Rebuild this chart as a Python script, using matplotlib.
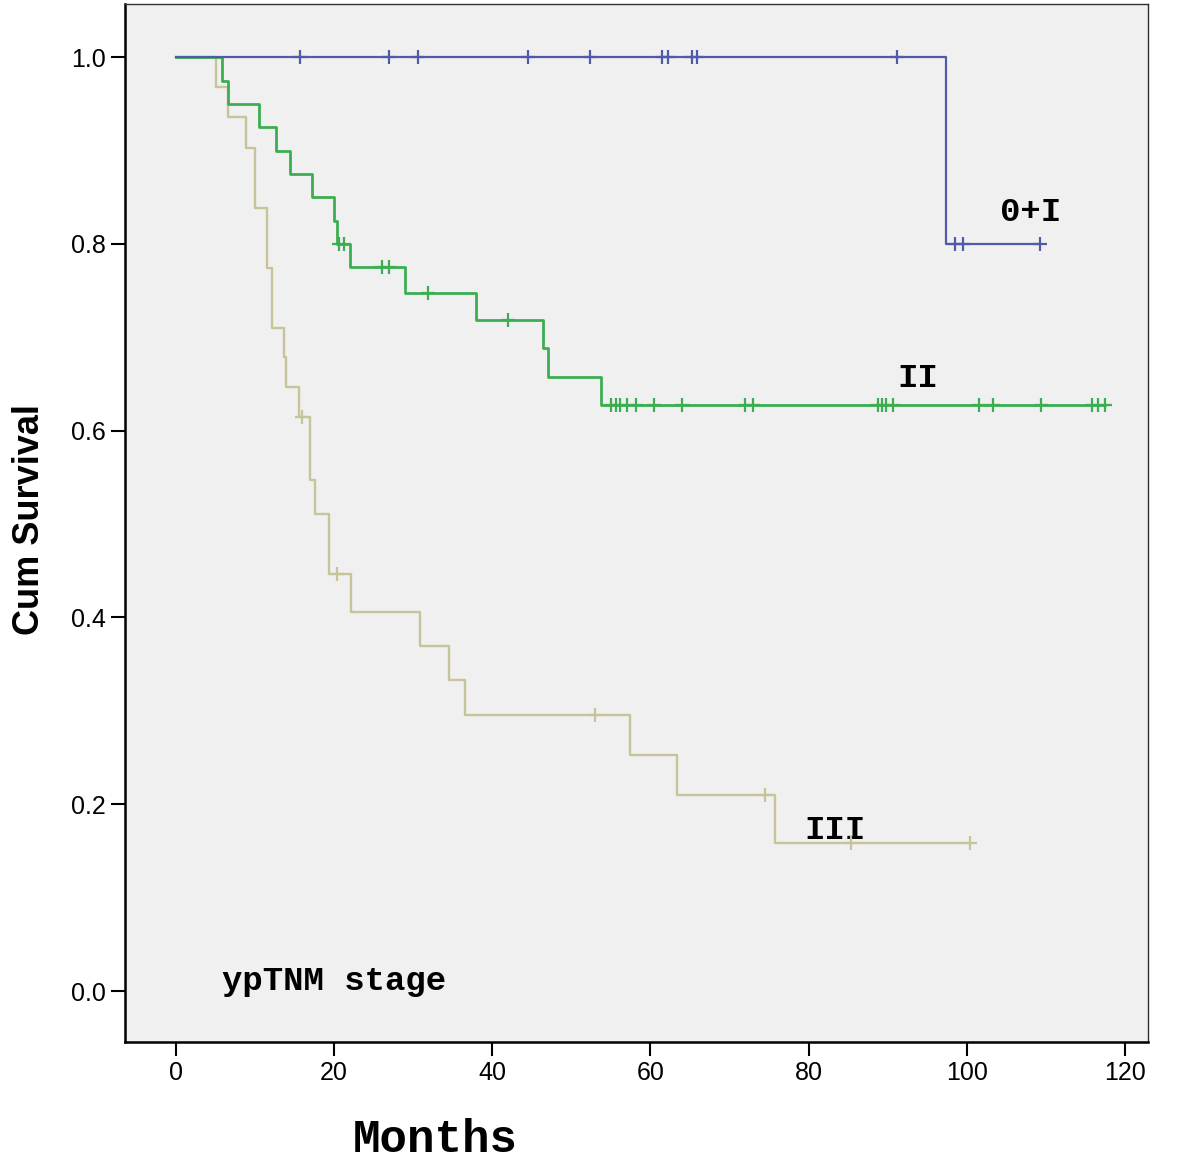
import matplotlib
matplotlib.use("Agg")
import matplotlib.pyplot as plt
import numpy as np

# Kaplan-Meier curves by ypTNM stage
# stage 0+I
g1_event_t = [97.4]
g1_event_s = [0.80]
g1_cens_t = [15.7, 26.9, 30.6, 44.5, 52.4, 61.5, 62.2, 65.2, 65.9, 91.2,
             98.5, 99.5, 109.3]

# stage II
g2_event_t = [5.8, 6.6, 10.5, 12.6, 14.4, 17.2, 20.0, 20.3, 22.0, 29.0,
              38.0, 46.4, 47.1, 53.8]
g2_event_s = [0.975, 0.950, 0.925, 0.900, 0.875, 0.850, 0.825, 0.800, 0.775,
              0.747, 0.719, 0.689, 0.658, 0.627]
g2_cens_t = [20.6, 21.2, 26.0, 26.9, 31.9, 42.0, 55.0, 55.6, 56.2, 57.0,
             58.2, 60.4, 64.0, 72.0, 72.9, 88.8, 89.3, 89.8, 90.7, 101.5,
             103.3, 109.4, 115.8, 116.6, 117.5]

# stage III
g3_event_t = [5.1, 6.6, 8.9, 10.0, 11.5, 12.1, 13.6, 13.9, 15.5, 16.9,
              17.6, 19.3, 22.1, 30.9, 34.5, 36.5, 57.4, 63.4, 75.7]
g3_event_s = [0.968, 0.936, 0.903, 0.839, 0.774, 0.710, 0.679, 0.647, 0.615,
              0.547, 0.511, 0.447, 0.406, 0.369, 0.333, 0.296, 0.253, 0.210,
              0.158]
g3_cens_t = [15.9, 20.3, 53.0, 74.5, 85.4, 100.4]

BLUE = "#4f5aa8"
GREEN = "#3cae52"
TAN = "#c8c49a"
BG = "#f0f0f0"

LABEL_FONT = ["Liberation Mono", "DejaVu Sans Mono"]
TICK_FONT = ["Liberation Sans", "DejaVu Sans"]

fig = plt.figure(figsize=(11.81, 11.61), dpi=100, facecolor="white")
ax = fig.add_axes([0.1058, 0.1025, 0.8662, 0.8941])
ax.set_facecolor(BG)


def draw_km(ev_t, ev_s, cens_t, color, lw):
    end = max(cens_t[-1], ev_t[-1])
    xs = [0.0] + list(ev_t) + [end]
    ys = [1.0] + list(ev_s) + [ev_s[-1]]
    ax.step(xs, ys, where="post", color=color, lw=lw, zorder=3)
    # survival level at each censoring time
    t_arr = np.array([0.0] + list(ev_t))
    s_arr = np.array([1.0] + list(ev_s))
    idx = np.searchsorted(t_arr, cens_t, side="right") - 1
    ax.plot(cens_t, s_arr[idx], linestyle="none", marker="+", markersize=10,
            mew=1.6, color=color, zorder=4)


draw_km(g3_event_t, g3_event_s, g3_cens_t, TAN, 1.7)
draw_km(g2_event_t, g2_event_s, g2_cens_t, GREEN, 2.0)
draw_km(g1_event_t, g1_event_s, g1_cens_t, BLUE, 1.6)

ax.set_xlim(-6.45, 122.9)
ax.set_ylim(-0.0546, 1.057)
ax.set_xticks(np.arange(0, 121, 20))
ax.set_yticks(np.arange(0, 1.01, 0.2))
ax.set_yticklabels([f"{v:.1f}" for v in np.arange(0, 1.01, 0.2)])
ax.tick_params(direction="out", length=10, width=1.5, labelsize=18, pad=4)
for lab in ax.get_xticklabels() + ax.get_yticklabels():
    lab.set_family(TICK_FONT)

for side in ["left", "bottom"]:
    ax.spines[side].set_linewidth(1.8)
for side in ["top", "right"]:
    ax.spines[side].set_linewidth(1.0)
    ax.spines[side].set_color("#303030")

fig.text(30 / 1181, 1 - 520 / 1161, "Cum Survival", fontsize=26,
         fontweight="bold", family=TICK_FONT, rotation=90,
         ha="center", va="center")
fig.text(435 / 1181, 1 - 1140 / 1161, "Months", fontsize=33,
         fontweight="bold", family=LABEL_FONT, ha="center", va="center")

ax.text(104.2, 0.834, "0+I", fontsize=24.5, fontweight="bold",
        family=LABEL_FONT, va="center", ha="left")
ax.text(91.2, 0.656, "II", fontsize=24.5, fontweight="bold",
        family=LABEL_FONT, va="center", ha="left")
ax.text(79.5, 0.172, "III", fontsize=24.5, fontweight="bold",
        family=LABEL_FONT, va="center", ha="left")
ax.text(5.8, 0.01, "ypTNM stage", fontsize=24.5, fontweight="bold",
        family=LABEL_FONT, va="center", ha="left")

fig.savefig("out.png", dpi=100, facecolor=fig.get_facecolor())
